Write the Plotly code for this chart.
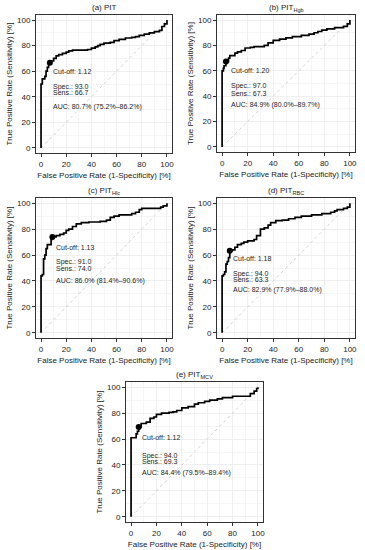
import plotly.graph_objects as go

titles = ["(a) PIT", "(b) PIT<sub>Hgb</sub>", "(c) PIT<sub>Hlc</sub>", "(d) PIT<sub>RBC</sub>", "(e) PIT<sub>MCV</sub>"]
cutoffs = ["1.12", "1.20", "1.13", "1.18", "1.12"]
spec = [93.0, 97.0, 91.0, 94.0, 94.0]
sens = [66.7, 67.3, 74.0, 63.3, 69.3]
auc = ["80.7% (75.2%–86.2%)", "84.9% (80.0%–89.7%)", "86.0% (81.4%–90.6%)",
       "82.9% (77.9%–88.0%)", "84.4% (79.5%–89.4%)"]

fpr_a = [0, 0, 1, 3, 4, 5, 6, 7, 10, 12, 14, 17, 20, 22, 25, 37, 40, 43, 45, 47, 50, 55, 58, 62, 67, 72, 75, 78, 82, 86, 90, 94, 96, 98, 100]
tpr_a = [0, 50, 54, 56, 60, 63, 66.7, 68, 70, 72, 73, 74, 75, 76, 76.5, 77, 78, 79, 80, 81, 82, 82.5, 84, 85, 86, 86.5, 87, 88, 89, 90, 91, 92, 95, 97, 100]

fpr_b = [0, 0, 1, 1.5, 3, 5, 6, 10, 12, 15, 18, 22, 25, 33, 36, 40, 45, 50, 55, 62, 68, 72, 75, 78, 82, 88, 95, 98, 100]
tpr_b = [0, 60, 62, 64, 67.3, 70, 72, 74, 75, 76, 78, 78.5, 79, 80, 82, 84, 85, 86, 87, 88, 89, 90, 91, 92, 93, 94, 95, 97, 100]

fpr_c = [0, 0, 1, 2, 3, 4, 5, 8, 9, 12, 15, 18, 20, 22, 25, 28, 32, 38, 47, 52, 55, 58, 62, 72, 75, 78, 80, 95, 97, 100]
tpr_c = [0, 44, 45, 57, 60, 65, 68, 72, 74, 75, 76, 77, 79, 80, 82, 84, 85, 85.5, 86, 87, 89, 90, 91, 92, 93, 95, 96, 97, 98, 100]

fpr_d = [0, 0, 1, 2, 3, 4, 5, 6, 8, 10, 12, 15, 17, 20, 25, 27, 30, 33, 36, 38, 42, 47, 52, 57, 62, 70, 78, 85, 88, 90, 95, 98, 100]
tpr_d = [0, 44, 45, 47, 53, 55, 58, 63.3, 64, 66, 68, 69, 70, 71, 72, 75, 80, 81, 83, 85, 86.5, 87, 88, 89, 90, 91, 92, 93, 94, 95, 96, 97, 100]

fpr_e = [0, 0, 3, 4, 5, 6, 8, 12, 15, 18, 20, 24, 30, 33, 36, 40, 45, 50, 53, 58, 62, 68, 72, 80, 94, 97, 99, 100]
tpr_e = [0, 61, 61, 64, 66, 69.3, 72, 73, 76, 77, 79, 80, 80.5, 81, 82, 84, 85, 87, 88, 89, 90, 91, 92, 93, 95, 97, 99, 100]

curves = [(fpr_a, tpr_a), (fpr_b, tpr_b), (fpr_c, tpr_c), (fpr_d, tpr_d), (fpr_e, tpr_e)]
text_pos = [(8, 60, 48, 43, 32), (5, 60, 48, 42, 33), (10, 66, 55, 50, 40), (7, 57, 45, 41, 33), (7, 61, 47, 43, 34)]

W, H = 365, 550
# panel boxes in window pixels: left, right, top, bottom
boxes = [(36, 172, 15, 153), (217, 355, 15, 152), (36, 172, 198, 338), (217, 355, 198, 338), (126, 263, 382, 522)]

fig = go.Figure()
FONT = "Liberation Sans, Arial, sans-serif"
for i, ((fx, ty), box) in enumerate(zip(curves, boxes)):
    n = "" if i == 0 else str(i + 1)
    xa, ya = "x" + n, "y" + n
    fig.add_trace(go.Scatter(x=[0, 100], y=[0, 100], mode="lines", xaxis=xa, yaxis=ya,
                             line=dict(color="#c8c8c8", width=0.8, dash="dot"), showlegend=False, hoverinfo="skip"))
    fig.add_trace(go.Scatter(x=fx, y=ty, mode="lines", line_shape="hv", xaxis=xa, yaxis=ya,
                             line=dict(color="black", width=1.7), showlegend=False))
    fig.add_trace(go.Scatter(x=[100 - spec[i]], y=[sens[i]], mode="markers", xaxis=xa, yaxis=ya,
                             marker=dict(color="black", size=6), showlegend=False))
    l, r, t, b = box
    axcommon = dict(range=[-4, 104], showline=True, mirror=True, linecolor="#333", linewidth=1,
                    ticks="outside", ticklen=3, tickcolor="#333", tickvals=[0, 20, 40, 60, 80, 100],
                    tickfont=dict(size=8, color="#222", family=FONT), showgrid=True, gridcolor="#efefef",
                    gridwidth=0.6, zeroline=False, automargin=False,
                    minor=dict(showgrid=True, gridcolor="#f6f6f6", dtick=10, gridwidth=0.5))
    fig.update_layout(**{
        ("xaxis" + n): dict(axcommon, domain=[l / W, r / W], anchor=ya,
                            title=dict(text="False Positive Rate (1-Specificity) [%]",
                                       font=dict(size=8, color="#222", family=FONT), standoff=4)),
        ("yaxis" + n): dict(axcommon, domain=[1 - b / H, 1 - t / H], anchor=xa,
                            title=dict(text="True Positive Rate (Sensitivity) [%]",
                                       font=dict(size=8, color="#222", family=FONT), standoff=3)),
    })
    fig.add_annotation(text=titles[i], x=(l + r) / 2 / W, y=1 - (t - 7) / H, xref="paper", yref="paper",
                       xanchor="center", yanchor="middle",
                       showarrow=False, font=dict(size=8, color="#222", family=FONT))
    tx, yc, ys, yn, yauc = text_pos[i]
    for txt, yy in [("Cut-off: " + cutoffs[i], yc), ("Spec.: %.1f" % spec[i], ys),
                    ("Sens.: %.1f" % sens[i], yn), ("AUC: " + auc[i], yauc)]:
        fig.add_annotation(text=txt, x=tx, y=yy, xref=xa, yref=ya, xanchor="left", yanchor="middle",
                           showarrow=False, font=dict(size=7, color="#222", family=FONT))

fig.update_layout(width=W, height=H, margin=dict(l=0, r=0, t=0, b=0),
                  plot_bgcolor="white", paper_bgcolor="white", font=dict(family=FONT))
fig.write_html("out.html", config={"displayModeBar": False},
               post_script="document.body.style.margin='0';document.body.style.overflow='hidden';")
